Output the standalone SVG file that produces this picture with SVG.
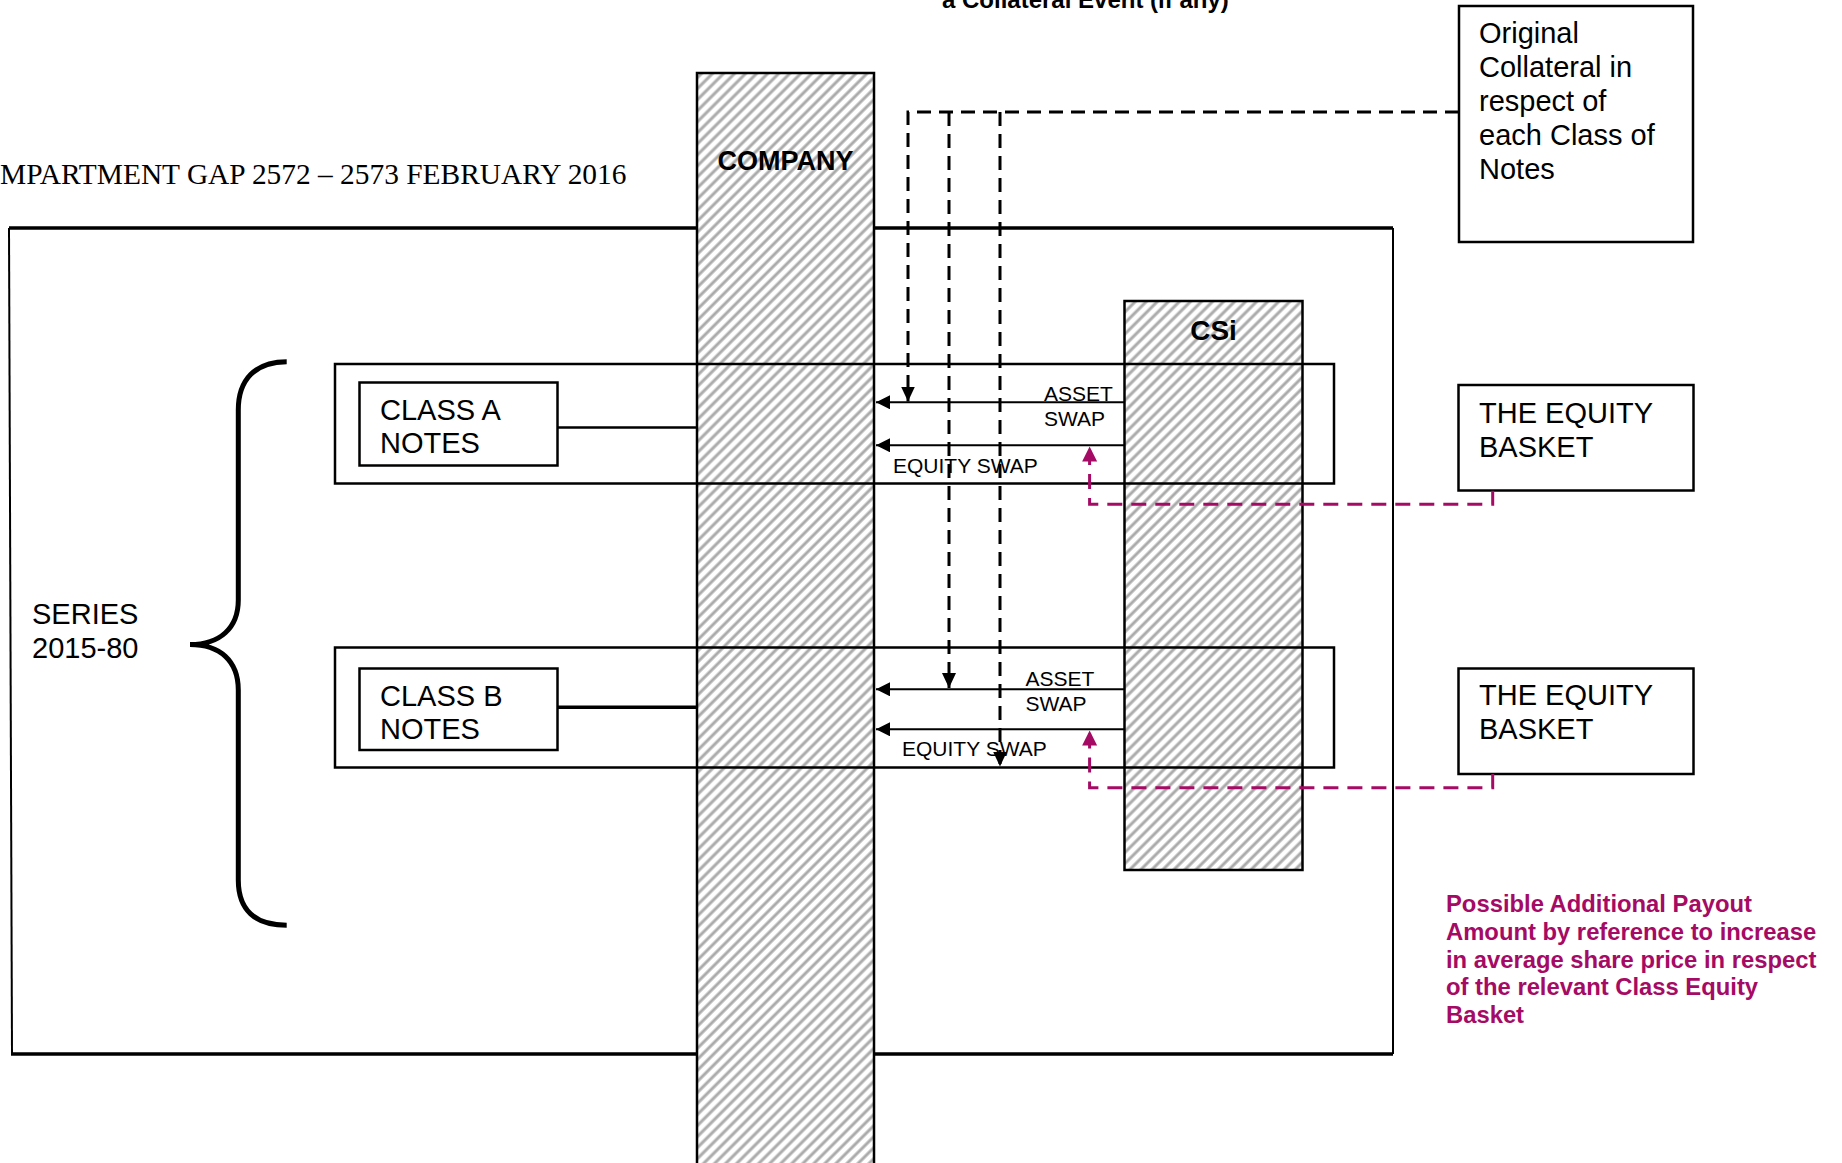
<svg xmlns="http://www.w3.org/2000/svg" width="1842" height="1163" viewBox="0 0 1842 1163">
<style>
.sans{font-family:"Liberation Sans",Arial,sans-serif;fill:#000}
.serif{font-family:"Liberation Serif","Times New Roman",serif;fill:#000}
.bold{font-weight:bold}
.box{fill:#fff;stroke:#000;stroke-width:2.5}
.obox{fill:none;stroke:#000;stroke-width:2.5}
.col{fill:url(#hatch);stroke:#000;stroke-width:2.5}
.arrow{fill:none;stroke:#000;stroke-width:2}
.dash{fill:none;stroke:#000;stroke-width:3;stroke-dasharray:14 8}
.mag{fill:none;stroke:#A50A64;stroke-width:3;stroke-dasharray:15 9}
.t29{font-size:29px}
.t21{font-size:21px}
.purple{font-family:"Liberation Sans",Arial,sans-serif;font-weight:bold;font-size:23.8px;fill:#A50A64}
</style>
<defs>
<pattern id="hatch" patternUnits="userSpaceOnUse" width="7.8" height="7.8" patternTransform="rotate(45)">
<rect width="7.8" height="7.8" fill="#fff"/>
<line x1="2" y1="0" x2="2" y2="7.8" stroke="#ababab" stroke-width="3"/>
</pattern>
<marker id="ah" markerUnits="userSpaceOnUse" markerWidth="16" markerHeight="16" refX="14" refY="7" orient="auto">
<path d="M0,0 L14,7 L0,14 Z" fill="#000"/>
</marker>
<marker id="ahd" markerUnits="userSpaceOnUse" markerWidth="17" markerHeight="16" refX="15" refY="7" orient="auto">
<path d="M0,0 L15,7 L0,14 Z" fill="#000"/>
</marker>
<marker id="ahm" markerUnits="userSpaceOnUse" markerWidth="17" markerHeight="17" refX="15" refY="7.5" orient="auto">
<path d="M0,0 L15,7.5 L0,15 Z" fill="#A50A64"/>
</marker>
</defs>
<rect width="1842" height="1163" fill="#fff"/>

<g id="title">
<text class="serif" x="0" y="184" font-size="29.4">MPARTMENT GAP 2572 – 2573 FEBRUARY 2016</text>
<text class="sans bold" x="942" y="7.5" font-size="24">a Collateral Event (if any)</text>
</g>

<g id="frame">
<line x1="9" y1="228" x2="1393" y2="228" stroke="#000" stroke-width="3.5"/>
<line x1="11" y1="1054" x2="1393" y2="1054" stroke="#000" stroke-width="3.5"/>
<line x1="9" y1="228" x2="12" y2="1054" stroke="#000" stroke-width="2"/>
<line x1="1393" y1="228" x2="1393" y2="1054" stroke="#000" stroke-width="2"/>
</g>

<g id="company">
<rect class="col" x="697" y="73" width="177" height="1100"/>
<text class="sans bold" x="785.5" y="170" font-size="27" text-anchor="middle">COMPANY</text>
</g>

<g id="csi">
<rect class="col" x="1124.5" y="301" width="178" height="569"/>
<text class="sans bold" x="1213.5" y="340" font-size="28" text-anchor="middle">CSi</text>
</g>

<g id="original-collateral">
<rect class="box" x="1459" y="6" width="234" height="236"/>
<text class="sans t29">
<tspan x="1479" y="43">Original</tspan>
<tspan x="1479" y="77">Collateral in</tspan>
<tspan x="1479" y="111">respect of</tspan>
<tspan x="1479" y="145">each Class of</tspan>
<tspan x="1479" y="179">Notes</tspan>
</text>
</g>

<g id="series">
<path d="M286.7,361.7 C255,361.7 238.3,380 238.3,410 L238.3,600 C238.3,628 220,644.5 190,644.5 C220,644.5 238.3,661 238.3,690 L238.3,880 C238.3,910 255,925.2 286.7,925.2" fill="none" stroke="#000" stroke-width="5"/>
<text class="sans t29"><tspan x="32" y="624">SERIES</tspan><tspan x="32" y="658">2015-80</tspan></text>
</g>

<g id="class-a-group">
<rect class="obox" x="335" y="364" width="999" height="119.5"/>
</g>
<g id="class-a-notes">
<rect class="box" x="359.5" y="382.5" width="198" height="83"/>
<text class="sans t29"><tspan x="380" y="420">CLASS A</tspan><tspan x="380" y="453">NOTES</tspan></text>
</g>

<g id="class-b-group">
<rect class="obox" x="335" y="647.5" width="999" height="120"/>
</g>
<g id="class-b-notes">
<rect class="box" x="359.5" y="668.5" width="198" height="81.5"/>
<text class="sans t29"><tspan x="380" y="706">CLASS B</tspan><tspan x="380" y="739">NOTES</tspan></text>
</g>

<g id="equity-basket-a">
<rect class="box" x="1458.5" y="385" width="235" height="105.5"/>
<text class="sans t29"><tspan x="1479" y="423">THE EQUITY</tspan><tspan x="1479" y="457">BASKET</tspan></text>
</g>

<g id="equity-basket-b">
<rect class="box" x="1458.5" y="668.5" width="235" height="105.5"/>
<text class="sans t29"><tspan x="1479" y="705">THE EQUITY</tspan><tspan x="1479" y="739">BASKET</tspan></text>
</g>

<g id="payout-note">
<text class="purple">
<tspan x="1446" y="912">Possible Additional Payout</tspan>
<tspan x="1446" y="940">Amount by reference to increase</tspan>
<tspan x="1446" y="967.5">in average share price in respect</tspan>
<tspan x="1446" y="995">of the relevant Class Equity</tspan>
<tspan x="1446" y="1023">Basket</tspan>
</text>
</g>

<g id="connectors">
<line x1="557.5" y1="427.5" x2="697" y2="427.5" stroke="#000" stroke-width="2.5"/>
<line x1="557.5" y1="707.3" x2="697" y2="707.3" stroke="#000" stroke-width="3.5"/>

<line class="arrow" x1="1124.5" y1="402.3" x2="876" y2="402.3" marker-end="url(#ah)"/>
<line class="arrow" x1="1124.5" y1="445.3" x2="876" y2="445.3" marker-end="url(#ah)"/>
<line class="arrow" x1="1124.5" y1="689.3" x2="876" y2="689.3" marker-end="url(#ah)"/>
<line class="arrow" x1="1124.5" y1="729.3" x2="876" y2="729.3" marker-end="url(#ah)"/>

<path class="dash" d="M1459,112 L908,112 L908,401.5" marker-end="url(#ahd)"/>
<path class="dash" d="M949,112 L949,688" marker-end="url(#ahd)"/>
<path class="dash" d="M1000,112 L1000,766.5" marker-end="url(#ahd)"/>

<path class="mag" d="M1492.7,490.7 L1492.7,504.3 L1089.6,504.3 L1089.6,446.5" marker-end="url(#ahm)"/>
<path class="mag" d="M1492.7,774 L1492.7,787.7 L1089.6,787.7 L1089.6,730.5" marker-end="url(#ahm)"/>

<text class="sans t21"><tspan x="1044" y="401">ASSET</tspan><tspan x="1044" y="426">SWAP</tspan></text>
<text class="sans t21" x="893" y="473.3">EQUITY SWAP</text>
<text class="sans t21"><tspan x="1025.5" y="686">ASSET</tspan><tspan x="1025.5" y="710.5">SWAP</tspan></text>
<text class="sans t21" x="902" y="756">EQUITY SWAP</text>
</g>
</svg>
